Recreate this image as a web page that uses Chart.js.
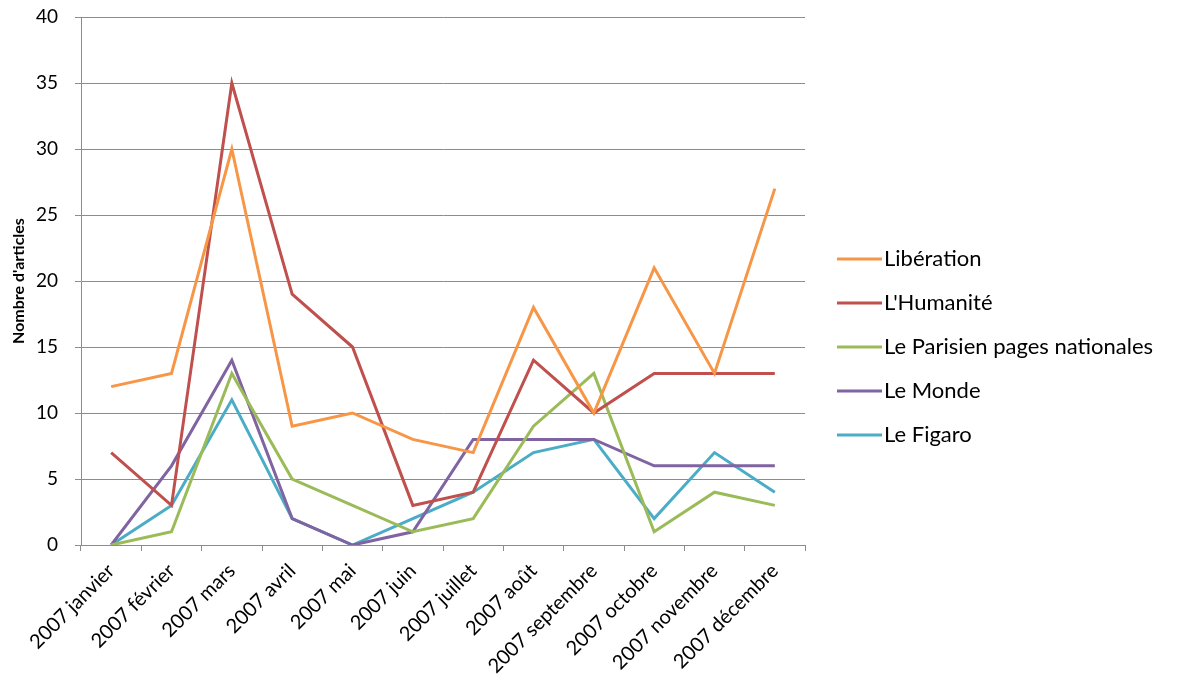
<!DOCTYPE html>
<html>
<head>
<meta charset="utf-8">
<script src="https://cdn.jsdelivr.net/npm/chart.js@4.4.0/dist/chart.umd.min.js"></script>
<style>
    html, body { margin: 0; padding: 0; background: #fff; }
    #wrap { width: 1181px; height: 688px; }
</style>
</head>
<body>
<div id="wrap"><canvas id="articlesChart"></canvas></div>
<script>
// Data
const months = ['2007 janvier', '2007 février', '2007 mars', '2007 avril', '2007 mai', '2007 juin',
    '2007 juillet', '2007 août', '2007 septembre', '2007 octobre', '2007 novembre', '2007 décembre'];

const liberation = [12, 13, 30, 9, 10, 8, 7, 18, 10, 21, 13, 27];
const humanite   = [7, 3, 35, 19, 15, 3, 4, 14, 10, 13, 13, 13];
const parisien   = [0, 1, 13, 5, 3, 1, 2, 9, 13, 1, 4, 3];
const monde      = [0, 6, 14, 2, 0, 1, 8, 8, 8, 6, 6, 6];
const figaro     = [0, 3, 11, 2, 0, 2, 4, 7, 8, 2, 7, 4];

const seriesNames  = ['Libération', "L'Humanité", 'Le Parisien pages nationales', 'Le Monde', 'Le Figaro'];
const seriesValues = [liberation, humanite, parisien, monde, figaro];
const seriesColors = ['#F79646', '#C0504D', '#9BBB59', '#8064A2', '#4BACC6'];

const yMin = 0;
const yMax = 40;
const yStep = 5;

const FONT = 'Lato, "Open Sans", sans-serif';

// legend drawn at the right side, Excel style
const sideLegend = {
    id: 'sideLegend',
    afterDraw(chart) {
        const ctx = chart.ctx;
        const x0 = chart.chartArea.right + 32;
        const mid = chart.height / 2 + 3;
        const gap = 44;
        const n = chart.data.datasets.length;
        ctx.save();
        ctx.font = '22px ' + FONT;
        ctx.textBaseline = 'middle';
        ctx.textAlign = 'left';
        chart.data.datasets.forEach((ds, i) => {
            const y = mid + (i - (n - 1) / 2) * gap;
            ctx.strokeStyle = ds.borderColor;
            ctx.lineWidth = 3;
            ctx.beginPath();
            ctx.moveTo(x0, y);
            ctx.lineTo(x0 + 45, y);
            ctx.stroke();
            ctx.fillStyle = '#000';
            ctx.fillText(ds.label, x0 + 47, y);
        });
        ctx.restore();
    }
};

const datasets = seriesNames.map((name, i) => ({
    label: name,
    data: seriesValues[i],
    borderColor: seriesColors[i],
    backgroundColor: seriesColors[i],
    borderWidth: 3,
    pointRadius: 0,
    tension: 0,
    fill: false
}));

new Chart(document.getElementById('articlesChart'), {
    type: 'line',
    data: { labels: months, datasets: datasets },
    options: {
        responsive: true,
        maintainAspectRatio: false,
        animation: false,
        layout: { padding: { top: 17, right: 376, left: 0, bottom: 0 } },
        plugins: {
            legend: { display: false },
            tooltip: { enabled: false }
        },
        scales: {
            x: {
                offset: true,
                grid: {
                    offset: true,
                    drawOnChartArea: false,
                    drawTicks: true,
                    tickLength: 6,
                    color: '#8c8c8c'
                },
                border: { color: '#8c8c8c', width: 1 },
                ticks: {
                    color: '#000',
                    font: { family: FONT, size: 20 },
                    minRotation: 45,
                    maxRotation: 45,
                    autoSkip: false,
                    padding: 8
                },
                afterFit: (scale) => { scale.height = 143; }
            },
            y: {
                min: yMin,
                max: yMax,
                ticks: {
                    stepSize: yStep,
                    color: '#000',
                    font: { family: FONT, size: 19 },
                    padding: 17
                },
                grid: {
                    color: '#8c8c8c',
                    tickLength: 6,
                    drawTicks: true
                },
                border: { color: '#8c8c8c', width: 1 },
                title: {
                    display: true,
                    text: "Nombre d'articles",
                    color: '#000',
                    font: { family: FONT, size: 16, weight: 'bold' },
                    padding: { top: 9, bottom: 0 }
                },
                afterFit: (scale) => {
                    scale.width = 81;
                    // tick padding should not push the plot area down
                    scale.paddingTop = 0;
                    scale.paddingBottom = 0;
                }
            }
        }
    },
    plugins: [sideLegend]
});
</script>
</body>
</html>
